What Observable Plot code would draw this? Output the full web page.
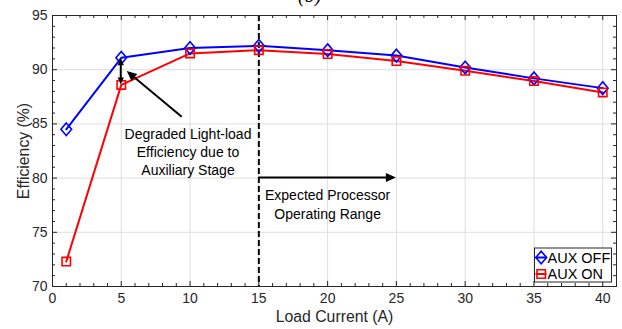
<!DOCTYPE html>
<html><head><meta charset="utf-8">
<script src="https://cdn.jsdelivr.net/npm/d3@7"></script>
<script src="https://cdn.jsdelivr.net/npm/@observablehq/plot@0.6"></script>
<style>html,body{margin:0;padding:0;background:#fff;} #chart svg{display:block;}</style>
</head><body><div id="chart"></div>
<script>
// ---- data ----
const loadCurrent = [1, 5, 10, 15, 20, 25, 30, 35, 40];
const auxOff = [84.5, 91.1, 92.0, 92.2, 91.8, 91.3, 90.2, 89.2, 88.3];
const auxOn  = [72.3, 88.6, 91.5, 91.8, 91.45, 90.8, 89.9, 88.95, 87.9];
const seriesNames = ["AUX OFF", "AUX ON"];
const xTicks = [0, 5, 10, 15, 20, 25, 30, 35, 40];
const yTicks = [70, 75, 80, 85, 90, 95];
const xMinorTicks = d3.range(0, 41, 1).filter(v => v % 5 !== 0);
const yMinorTicks = d3.range(70, 96, 1).filter(v => v % 5 !== 0);
const xLabel = "Load Current (A)";
const yLabel = "Efficiency (%)";
const panelLabel = [{x: 18.7, text: "(b)"}];
const dashedAt = [15];
const notes = [
  {x: 9.85, y: 82.45, text: "Degraded Light-load\nEfficiency due to\nAuxiliary Stage"},
  {x: 20.0, y: 77.66, text: "Expected Processor\nOperating Range"}
];
const arrows = [
  {x1: 15, y1: 80, x2: 25, y2: 80, both: false, head: 10},
  {x1: 9.43, y1: 85.62, x2: 5.43, y2: 89.83, both: false, head: 10},
  {x1: 5, y1: 88.6, x2: 5, y2: 91.0, both: true, head: 7}
];

// ---- style ----
const AX = "#262626";
const FONT = "'Liberation Sans', Arial, Helvetica, sans-serif";
const BLUE = "#0000ff", RED = "#ff0000";
const diamond = {draw(ctx, size) {
  const r = Math.sqrt(size / Math.PI), w = r * 0.85;
  ctx.moveTo(0, -r); ctx.lineTo(w, 0); ctx.lineTo(0, r); ctx.lineTo(-w, 0); ctx.closePath();
}};
const square = {draw(ctx, size) {
  const s = Math.sqrt(size / Math.PI);
  ctx.rect(-s, -s, 2 * s, 2 * s);
}};

const offRows = loadCurrent.map((x, i) => ({x, y: auxOff[i]}));
const onRows = loadCurrent.map((x, i) => ({x, y: auxOn[i]}));

function headPath(tx, ty, ang, L, W) {
  const bx = tx - L * Math.cos(ang), by = ty - L * Math.sin(ang);
  const nx = -Math.sin(ang) * W, ny = Math.cos(ang) * W;
  return `M${tx},${ty}L${bx + nx},${by + ny}L${bx - nx},${by - ny}Z`;
}

function arrowMark(index, scales) {
  const g = d3.create("svg:g");
  for (const a of arrows) {
    const x1 = scales.x(a.x1), y1 = scales.y(a.y1), x2 = scales.x(a.x2), y2 = scales.y(a.y2);
    const ang = Math.atan2(y2 - y1, x2 - x1);
    const L = a.head, W = a.head * 0.45;
    const sx = a.both ? x1 + (L - 1) * Math.cos(ang) : x1, sy = a.both ? y1 + (L - 1) * Math.sin(ang) : y1;
    const ex = x2 - (L - 1) * Math.cos(ang), ey = y2 - (L - 1) * Math.sin(ang);
    g.append("line").attr("x1", sx).attr("y1", sy).attr("x2", ex).attr("y2", ey)
      .attr("stroke", "black").attr("stroke-width", 2);
    g.append("path").attr("d", headPath(x2, y2, ang, L, W)).attr("fill", "black");
    if (a.both) g.append("path").attr("d", headPath(x1, y1, ang + Math.PI, L, W)).attr("fill", "black");
  }
  return g.node();
}

function legendMark(index, scales, values, dims) {
  const {width, height, marginRight, marginBottom} = dims;
  const bx = width - marginRight - 81.5, by = height - marginBottom - 38;
  const g = d3.create("svg:g");
  g.append("rect").attr("x", bx).attr("y", by).attr("width", 77).attr("height", 34)
    .attr("fill", "white").attr("stroke", AX).attr("stroke-width", 1);
  const items = [
    {name: seriesNames[0], color: BLUE, sym: diamond, r: 6.3},
    {name: seriesNames[1], color: RED, sym: square, r: 4.2}
  ];
  items.forEach((it, i) => {
    const cy = by + 9.5 + i * 16.5;
    g.append("line").attr("x1", bx + 1).attr("x2", bx + 12).attr("y1", cy).attr("y2", cy)
      .attr("stroke", it.color).attr("stroke-width", 2);
    g.append("path").attr("d", d3.symbol(it.sym, it.r * it.r * Math.PI)())
      .attr("transform", `translate(${bx + 6.7},${cy})`)
      .attr("fill", "none").attr("stroke", it.color).attr("stroke-width", 1.6);
    g.append("text").attr("x", bx + 13).attr("y", cy).attr("dy", "0.35em")
      .attr("text-anchor", "start")
      .attr("font-size", 14.5).attr("font-family", FONT).attr("fill", "black").text(it.name);
  });
  return g.node();
}

const chart = Plot.plot({
  width: 622, height: 329,
  marginLeft: 52, marginRight: 6, marginTop: 15, marginBottom: 43,
  style: {fontFamily: FONT, background: "white", overflow: "visible"},
  x: {domain: [0, 41]},
  y: {domain: [70, 95]},
  marks: [
    Plot.gridX(xTicks, {stroke: "#dedede", strokeOpacity: 1}),
    Plot.gridY(yTicks, {stroke: "#dedede", strokeOpacity: 1}),
    Plot.ruleX(dashedAt, {stroke: "black", strokeWidth: 2, strokeDasharray: "6,3"}),
    Plot.line(offRows, {x: "x", y: "y", stroke: BLUE, strokeWidth: 2}),
    Plot.line(onRows, {x: "x", y: "y", stroke: RED, strokeWidth: 2}),
    Plot.dot(offRows, {x: "x", y: "y", symbol: diamond, r: 6.3, stroke: BLUE, strokeWidth: 1.6, fill: "none"}),
    Plot.dot(onRows, {x: "x", y: "y", symbol: square, r: 4.2, stroke: RED, strokeWidth: 1.6, fill: "none"}),
    arrowMark,
    Plot.text(notes.slice(0, 1), {x: "x", y: "y", text: "text", fontSize: 14, lineHeight: 1.29, fill: "black"}),
    Plot.text(notes.slice(1, 2), {x: "x", y: "y", text: "text", fontSize: 14, lineHeight: 1.38, fill: "black"}),
    Plot.tickX(xMinorTicks, {x: d => d, insetTop: 268, stroke: AX}),
    Plot.tickX(xMinorTicks, {x: d => d, insetBottom: 268, stroke: AX}),
    Plot.tickX(xTicks, {x: d => d, insetTop: 266, stroke: AX}),
    Plot.tickX(xTicks, {x: d => d, insetBottom: 266, stroke: AX}),
    Plot.tickY(yMinorTicks, {y: d => d, insetRight: 561, stroke: AX}),
    Plot.tickY(yMinorTicks, {y: d => d, insetLeft: 561, stroke: AX}),
    Plot.tickY(yTicks, {y: d => d, insetRight: 559, stroke: AX}),
    Plot.tickY(yTicks, {y: d => d, insetLeft: 559, stroke: AX}),
    Plot.frame({stroke: AX}),
    Plot.axisX(xTicks, {tickSize: 0, tickPadding: 7, fontSize: 14, fill: AX, label: null}),
    Plot.axisY(yTicks, {tickSize: 0, tickPadding: 5, fontSize: 14, fill: AX, label: null}),
    Plot.text([xLabel], {frameAnchor: "bottom", dy: 30, lineAnchor: "middle", textAnchor: "middle", fontSize: 15.8, fill: AX}),
    Plot.text([yLabel], {frameAnchor: "left", dx: -29, rotate: -90, lineAnchor: "middle", textAnchor: "middle", fontSize: 15.8, fill: AX}),
    Plot.text(panelLabel, {x: "x", text: "text", frameAnchor: "top", dy: -14, lineAnchor: "bottom",
      fontStyle: "italic", fontFamily: "'Liberation Serif', 'DejaVu Serif', serif", fontSize: 20, fill: "black"}),
    legendMark
  ]
});
document.getElementById("chart").append(chart);
</script>
</body></html>
